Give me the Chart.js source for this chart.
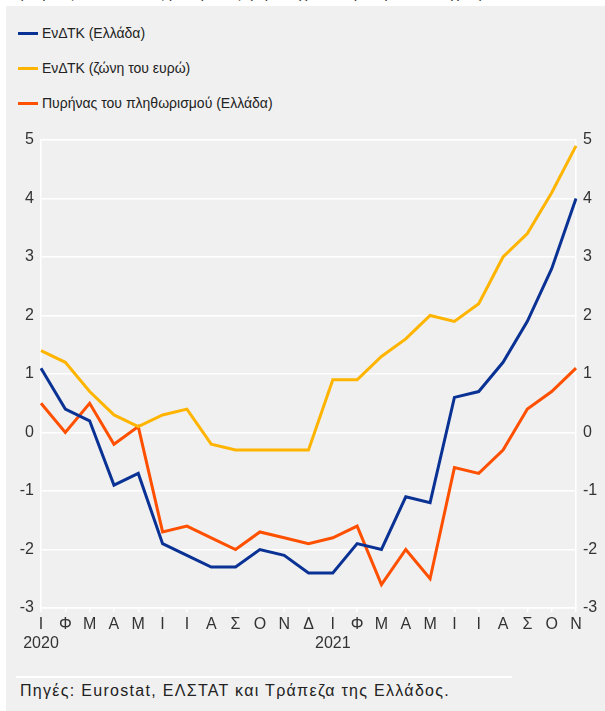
<!DOCTYPE html>
<html>
<head>
<meta charset="utf-8">
<script src="https://cdn.jsdelivr.net/npm/chart.js@4.4.1/dist/chart.umd.min.js"></script>
<style>
  html, body { margin: 0; padding: 0; background: #ffffff; }
  body { width: 605px; height: 711px; position: relative; overflow: hidden; font-family: 'Liberation Sans', Arial, sans-serif; color: #222; }
  #subtitle { position: absolute; left: 18px; top: -16px; font-size: 16px; color: #444; white-space: nowrap; }
  #panel { position: absolute; left: 6px; top: 6px; width: 599px; height: 705px; background: #f0f0f0; }
  #legend { position: absolute; left: 18px; top: 22px; font-size: 14px; color: #222; }
  .item { position: relative; height: 35px; line-height: 22px; padding-left: 24px; }
  .swatch { position: absolute; left: 0; top: 10px; width: 20px; height: 3px; }
  #wrap { position: absolute; left: 0; top: 120px; width: 605px; height: 540px; }
  #rule { position: absolute; left: 16px; top: 676px; width: 496px; height: 2px; background: #ffffff; }
  #source { position: absolute; left: 20px; top: 682px; font-size: 16px; letter-spacing: 1.3px; color: #222; white-space: nowrap; }
</style>
</head>
<body>
<div id="subtitle">(ετήσιες ποσοστιαίες μεταβολές, μη εποχικά διορθωμένα στοιχεία)</div>
<div id="panel"></div>
<div id="legend"></div>
<div id="wrap"><canvas id="chart"></canvas></div>
<div id="rule"></div>
<div id="source">Πηγές: Eurostat, ΕΛΣΤΑΤ και Τράπεζα της Ελλάδος.</div>
<script>
// months Jan 2020 - Nov 2021
const months = ['Ι', 'Φ', 'Μ', 'Α', 'Μ', 'Ι', 'Ι', 'Α', 'Σ', 'Ο', 'Ν', 'Δ',
  'Ι', 'Φ', 'Μ', 'Α', 'Μ', 'Ι', 'Ι', 'Α', 'Σ', 'Ο', 'Ν']
const years = { 0: '2020', 12: '2021' }

const seriesNames = ['ΕνΔΤΚ (Ελλάδα)', 'ΕνΔΤΚ (ζώνη του ευρώ)', 'Πυρήνας του πληθωρισμού (Ελλάδα)']
const seriesColors = ['#0a3294', '#ffb400', '#ff5000']

const hicpGreece = [1.1, 0.4, 0.2, -0.9, -0.7, -1.9, -2.1, -2.3, -2.3, -2.0, -2.1, -2.4,
  -2.4, -1.9, -2.0, -1.1, -1.2, 0.6, 0.7, 1.2, 1.9, 2.8, 4.0]
const hicpEuro = [1.4, 1.2, 0.7, 0.3, 0.1, 0.3, 0.4, -0.2, -0.3, -0.3, -0.3, -0.3,
  0.9, 0.9, 1.3, 1.6, 2.0, 1.9, 2.2, 3.0, 3.4, 4.1, 4.9]
const coreGreece = [0.5, 0.0, 0.5, -0.2, 0.1, -1.7, -1.6, -1.8, -2.0, -1.7, -1.8, -1.9,
  -1.8, -1.6, -2.6, -2.0, -2.5, -0.6, -0.7, -0.3, 0.4, 0.7, 1.1]

const yTicks = [-3, -2, -1, 0, 1, 2, 3, 4, 5]

const labels = months.map((m, i) => (years[i] ? [m, years[i]] : m))
const allSeries = [hicpGreece, hicpEuro, coreGreece]

// legend as html, stacked like the original
const legend = document.getElementById('legend')
seriesNames.forEach((name, i) => {
  const row = document.createElement('div')
  row.className = 'item'
  row.innerHTML = `<span class="swatch" style="background:${seriesColors[i]}"></span>${name}`
  legend.appendChild(row)
})

const tickFont = { family: "'Liberation Sans', Arial, sans-serif", size: 16 }
const tickColor = '#333333'

const yAxis = (position, width) => ({
  type: 'linear',
  position,
  min: -3,
  max: 5,
  afterBuildTicks: (scale) => { scale.ticks = yTicks.map((v) => ({ value: v })) },
  afterFit: (scale) => { scale.width = width },
  border: { display: true, color: '#ffffff', width: 1.5 },
  grid: {
    display: position === 'left',
    color: '#ffffff',
    lineWidth: 1.5,
    drawTicks: false
  },
  ticks: {
    color: tickColor,
    font: tickFont,
    padding: 7,
    callback: (v) => String(v)
  }
})

new Chart(document.getElementById('chart'), {
  type: 'line',
  data: {
    labels,
    datasets: allSeries.map((data, i) => ({
      label: seriesNames[i],
      data,
      yAxisID: 'y',
      borderColor: seriesColors[i],
      backgroundColor: seriesColors[i],
      borderWidth: 3,
      pointRadius: 0,
      tension: 0,
      fill: false
    }))
  },
  options: {
    responsive: true,
    maintainAspectRatio: false,
    animation: false,
    layout: { padding: { top: 20, left: 0, right: 0, bottom: 0 } },
    plugins: {
      legend: { display: false },
      tooltip: { enabled: false }
    },
    scales: {
      x: {
        type: 'category',
        offset: false,
        afterFit: (scale) => { scale.height = 52 },
        border: { display: true, color: '#ffffff', width: 1.5 },
        grid: {
          display: true,
          drawOnChartArea: false,
          drawTicks: true,
          tickLength: 4,
          color: '#ffffff',
          lineWidth: 1.5
        },
        ticks: {
          color: tickColor,
          font: tickFont,
          padding: 3,
          maxRotation: 0,
          autoSkip: false
        }
      },
      y: yAxis('left', 41),
      y2: yAxis('right', 29)
    }
  }
})
</script>
</body>
</html>
